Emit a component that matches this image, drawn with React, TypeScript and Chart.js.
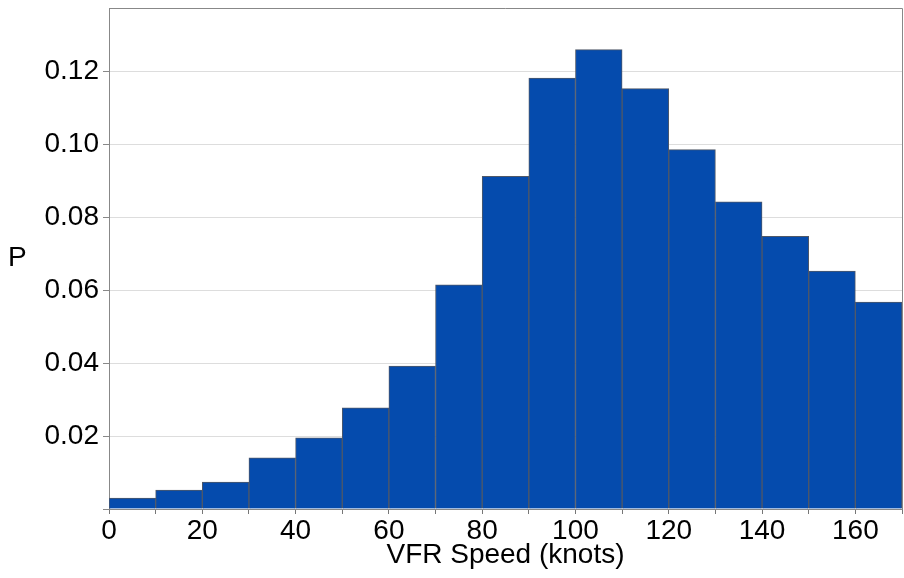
import React, { useEffect, useRef } from "react";
import { Chart, registerables } from "chart.js";

Chart.register(...registerables);

// Histogram bins (bin centers, knots) and probabilities
const binCenters = [5, 15, 25, 35, 45, 55, 65, 75, 85, 95, 105, 115, 125, 135, 145, 155, 165];
const probabilities = [
  0.003, 0.0052, 0.0074, 0.014, 0.0195, 0.0277, 0.0392, 0.0614, 0.0912, 0.1181,
  0.1259, 0.1152, 0.0985, 0.0842, 0.0747, 0.0652, 0.0567,
];
const xTickStep = 10;
const xLabelStep = 20;
const yTickStep = 0.02;
const xTitle = "VFR Speed (knots)";
const yTitle = "P";

const FONT = "'Liberation Sans', Arial, Helvetica, sans-serif";

export default function App() {
  const ref = useRef<HTMLCanvasElement | null>(null);

  useEffect(() => {
    if (!ref.current) return;
    const framePlugin = {
      id: "frame",
      afterDraw(chart: any) {
        const { ctx, chartArea } = chart;
        ctx.save();
        ctx.strokeStyle = "#888888";
        ctx.lineWidth = 1;
        ctx.beginPath();
        ctx.moveTo(chartArea.left, chartArea.top + 0.5);
        ctx.lineTo(chartArea.right + 0.5, chartArea.top + 0.5);
        ctx.lineTo(chartArea.right + 0.5, chartArea.bottom);
        ctx.stroke();
        ctx.fillStyle = "#000";
        ctx.font = `28px ${FONT}`;
        ctx.textAlign = "left";
        ctx.textBaseline = "middle";
        ctx.fillText(yTitle, 8, (chartArea.top + chartArea.bottom) / 2);
        ctx.restore();
      },
    };

    const chart = new Chart(ref.current, {
      type: "bar",
      data: {
        datasets: [
          {
            data: binCenters.map((x, i) => ({ x, y: probabilities[i] })),
            backgroundColor: "#054bad",
            borderColor: "#4f5868",
            borderWidth: 1,
            barPercentage: 1,
            categoryPercentage: 1,
          },
        ],
      },
      options: {
        responsive: false,
        animation: false,
        devicePixelRatio: 1,
        layout: { padding: { top: 8, right: 2, left: 0, bottom: 0 } },
        plugins: { legend: { display: false }, tooltip: { enabled: false } },
        scales: {
          x: {
            type: "linear",
            min: 0,
            max: 170,
            offset: false,
            grid: {
              offset: false,
              drawOnChartArea: false,
              drawTicks: true,
              tickLength: 5,
              color: "#777777",
            },
            border: { display: true, color: "#888888" },
            ticks: {
              stepSize: xTickStep,
              autoSkip: false,
              maxRotation: 0,
              padding: 0,
              color: "#000",
              font: { family: FONT, size: 28 },
              callback: (v: any) => (Number(v) % xLabelStep === 0 ? String(v) : ""),
            },
            title: {
              display: true,
              text: xTitle,
              color: "#000",
              font: { family: FONT, size: 28 },
              padding: { top: 0, bottom: 6 },
            },
            afterFit: (scale: any) => {
              scale.height = 69;
              scale.paddingLeft = 0;
              scale.paddingRight = 0;
            },
          },
          y: {
            min: 0,
            max: 0.1373,
            grid: {
              color: "#dddddd",
              tickColor: "#888888",
              tickLength: 6,
              drawTicks: true,
            },
            border: { display: true, color: "#888888" },
            ticks: {
              stepSize: yTickStep,
              includeBounds: false,
              padding: 4,
              color: "#000",
              font: { family: FONT, size: 28 },
              callback: (v: any) => (Number(v) === 0 ? "" : Number(v).toFixed(2)),
            },
            afterFit: (scale: any) => {
              scale.width = 109;
              scale.paddingTop = 0;
              scale.paddingBottom = 0;
            },
          },
        },
      },
      plugins: [framePlugin],
    } as any);
    return () => chart.destroy();
  }, []);

  return (
    <div style={{ position: "fixed", left: 0, top: 0, width: 904, height: 578, background: "#fff" }}>
      <canvas ref={ref} width={904} height={578} style={{ display: "block" }} />
    </div>
  );
}
